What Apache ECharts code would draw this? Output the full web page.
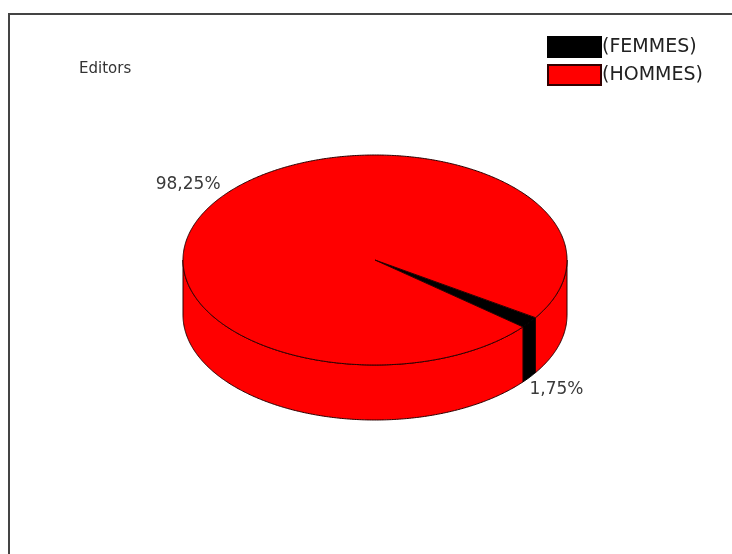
<!DOCTYPE html>
<html>
<head>
<meta charset="utf-8">
<script src="https://cdn.jsdelivr.net/npm/echarts@6/dist/echarts.min.js"></script>
<style>
html,body{margin:0;padding:0;background:#fff;}
#chart{width:732px;height:554px;}
</style>
</head>
<body>
<div id="chart"></div>
<script>
// ---- data ----
const chartTitle = 'Editors';
const categories = ['(FEMMES)', '(HOMMES)'];
const values = [1.75, 98.25];
const valueLabels = ['1,75%', '98,25%'];
const colors = ['#000000', '#ff0000'];

// ---- layout (3D pie projection) ----
const CX = 375, CY = 260, RX = 192, RY = 105, DEPTH = 55;
const START = 33.3 * Math.PI / 180;
const total = values.reduce((a, b) => a + b, 0);

function ellPt(t, dy) { return [CX + RX * Math.cos(t), CY + RY * Math.sin(t) + (dy || 0)]; }
function arcPts(a, b, dy) {
  const n = Math.max(2, Math.ceil(Math.abs(b - a) / (Math.PI / 360)));
  const pts = [];
  for (let i = 0; i <= n; i++) pts.push(ellPt(a + (b - a) * i / n, dy));
  return pts;
}
function sliceAngles(k) {
  let cum = 0;
  for (let i = 0; i < k; i++) cum += values[i];
  const a1 = START + cum / total * 2 * Math.PI;
  const a2 = a1 + values[k] / total * 2 * Math.PI;
  return [a1, a2];
}

function makeRender(k) {
  return function (params, api) {
    const [a1, a2] = sliceAngles(k);
    const fill = colors[k];
    const stroke = k === 0 ? '#000' : '#2a0000';
    const children = [];
    [[0, Math.PI], [2 * Math.PI, 3 * Math.PI]].forEach(([lo, hi]) => {
      const s = Math.max(a1, lo), e = Math.min(a2, hi);
      if (e > s) {
        children.push({
          type: 'polygon',
          shape: { points: arcPts(s, e, 0).concat(arcPts(e, s, DEPTH)) },
          style: { fill: fill, stroke: stroke, lineWidth: 1 }
        });
      }
    });
    children.push({
      type: 'polygon',
      shape: { points: [[CX, CY]].concat(arcPts(a1, a2, 0)) },
      style: { fill: fill, stroke: stroke, lineWidth: 1 }
    });
    const mid = (a1 + a2) / 2;
    const c = Math.cos(mid), s = Math.sin(mid);
    const p = ellPt(mid, s > 0 ? DEPTH : 0);
    children.push({
      type: 'text',
      style: {
        x: p[0], y: p[1] + (s > 0 ? 4 : -5),
        text: valueLabels[k],
        fill: '#3a3a3a',
        fontSize: 17,
        fontFamily: 'DejaVu Sans',
        align: c >= 0 ? 'left' : 'right',
        verticalAlign: s > 0 ? 'top' : 'bottom'
      }
    });
    return { type: 'group', children: children };
  };
}

const chart = echarts.init(document.getElementById('chart'), null, { renderer: 'canvas' });
chart.setOption({
  animation: false,
  backgroundColor: '#ffffff',
  color: colors,
  title: {
    text: chartTitle,
    left: 79, top: 62,
    padding: 0,
    textStyle: { fontSize: 15, fontWeight: 'normal', color: '#333', fontFamily: 'DejaVu Sans' }
  },
  legend: {
    orient: 'vertical',
    left: 547, top: 36,
    padding: 0,
    itemWidth: 53, itemHeight: 20, itemGap: 6,
    icon: 'rect',
    data: categories,
    textStyle: { fontSize: 19, lineHeight: 20, color: '#222', fontFamily: 'DejaVu Sans', padding: [0, 0, 0, -4] }
  },
  graphic: [{
    type: 'rect',
    shape: { x: 9, y: 14, width: 900, height: 700 },
    style: { fill: 'none', stroke: '#444', lineWidth: 2 },
    silent: true
  }],
  series: categories.map((name, k) => ({
    type: 'custom',
    name: name,
    coordinateSystem: 'none',
    itemStyle: { color: colors[k], borderColor: k === 0 ? '#000' : '#300', borderWidth: 1 },
    renderItem: makeRender(k),
    data: [values[k]]
  }))
});
</script>
</body>
</html>
